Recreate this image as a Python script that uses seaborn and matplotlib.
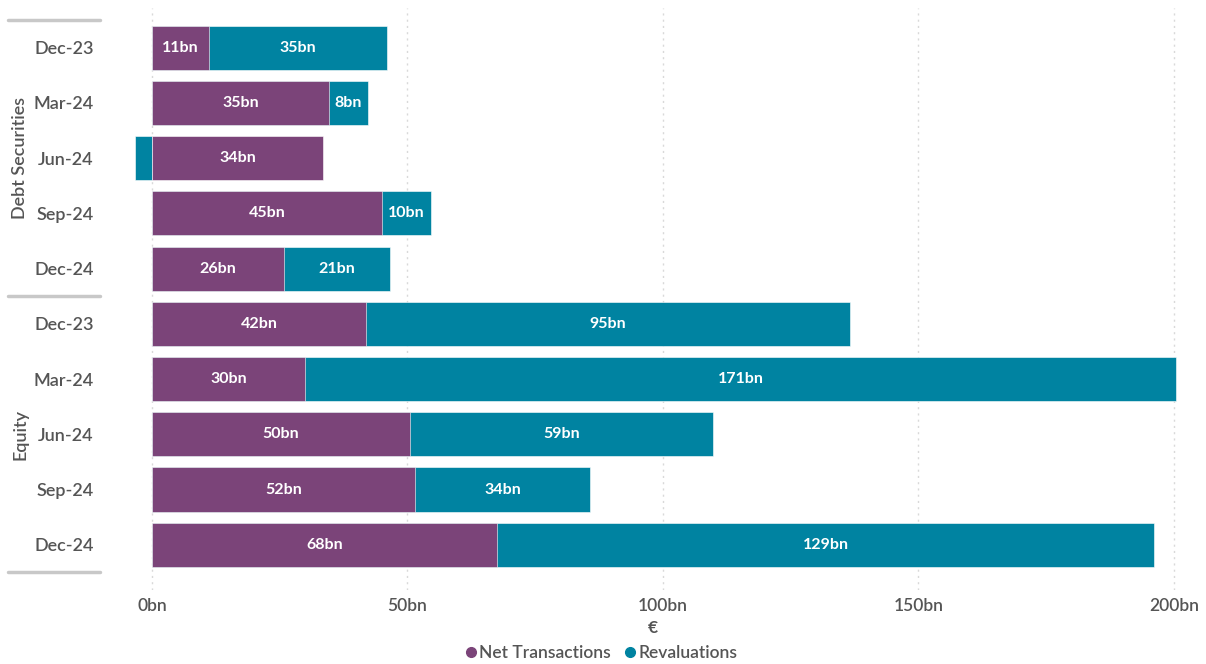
import matplotlib
matplotlib.use("Agg")
import matplotlib.pyplot as plt
from matplotlib.lines import Line2D
import matplotlib.transforms as mtransforms
import seaborn as sns
import pandas as pd
import numpy as np

groups = ["Debt Securities"] * 5 + ["Equity"] * 5
periods = ["Dec-23", "Mar-24", "Jun-24", "Sep-24", "Dec-24"] * 2
net_transactions = [11.2, 34.6, 33.5, 45.0, 25.8, 41.9, 29.9, 50.5, 51.5, 67.5]
revaluations = [34.8, 7.7, -3.3, 9.6, 20.8, 94.7, 170.6, 59.3, 34.2, 128.6]
xticks = [0, 50, 100, 150, 200]
xtick_labels = ["0bn", "50bn", "100bn", "150bn", "200bn"]

PURPLE = "#7b4479"
TEAL = "#0083a1"
TXT = "#555555"
W = "semibold"

sns.set_theme()
sns.set_style("white")
plt.rcParams["font.family"] = ["Lato", "DejaVu Sans"]

keys = [f"{g}|{p}" for g, p in zip(groups, periods)]
df = pd.DataFrame({
    "key": keys,
    "net": net_transactions,
    "rev": revaluations,
})
df["teal_extent"] = np.where(df["rev"] >= 0, df["net"] + df["rev"], df["rev"])

fig = plt.figure(figsize=(12.06, 6.64), dpi=100)
ax = fig.add_axes([105 / 1206, 1 - 590 / 664, 1095 / 1206, 582 / 664])

sns.barplot(data=df, y="key", x="teal_extent", order=keys, color=TEAL,
            saturation=1, width=0.8, orient="y", ax=ax,
            edgecolor="#ffffff", linewidth=0.4)
sns.barplot(data=df, y="key", x="net", order=keys, color=PURPLE,
            saturation=1, width=0.8, orient="y", ax=ax,
            edgecolor="#ffffff", linewidth=0.4)

# value labels
for i, (n, r) in enumerate(zip(net_transactions, revaluations)):
    ax.text(n / 2, i, f"{round(n)}bn", ha="center", va="center",
            color="white", fontsize=11.5, fontweight="bold")
    if r > 5:
        ax.text(n + r / 2, i, f"{round(r)}bn", ha="center", va="center",
                color="white", fontsize=11.5, fontweight="bold")

ax.set_xlim(-9.2, 205.1)
ax.set_ylim(9.82, -0.72)
ax.set_xticks(xticks)
ax.set_xticklabels(xtick_labels, fontsize=12.5, color=TXT, fontweight=W)
ax.set_yticks(range(len(keys)))
ax.set_yticklabels(periods, fontsize=13, color=TXT, fontweight=W)
ax.tick_params(axis="y", length=0, pad=8)
ax.tick_params(axis="x", length=0, pad=6)
ax.set_ylabel("")
ax.set_xlabel("€", fontsize=12.5, color=TXT, fontweight="bold", labelpad=4)
for s in ax.spines.values():
    s.set_visible(False)
ax.grid(axis="x", color="#d9d9d9", linestyle=(0, (1.5, 3)), linewidth=1)
ax.grid(axis="y", visible=False)
ax.set_axisbelow(True)

# group separators and labels
trans = mtransforms.blended_transform_factory(ax.transAxes, ax.transData)
for y in [-0.5, 4.5, 9.5]:
    ax.add_line(Line2D([-0.0886, -0.0046], [y, y], transform=trans,
                       color="#c8c8c8", linewidth=2.5, clip_on=False))
for label, yc in [("Debt Securities", 2), ("Equity", 7)]:
    ax.text(-0.0775, yc, label, transform=trans, rotation=90, ha="center",
            va="center", fontsize=13, color=TXT, fontweight=W)

handles = [
    Line2D([], [], marker="o", linestyle="", color=PURPLE, markersize=7),
    Line2D([], [], marker="o", linestyle="", color=TEAL, markersize=7),
]
leg = fig.legend(handles, ["Net Transactions", "Revaluations"], loc="center",
                 bbox_to_anchor=(600 / 1206, 1 - 653 / 664), ncol=2, frameon=False,
                 handletextpad=0.0, columnspacing=0.6, fontsize=12.5,
                 labelcolor=TXT, handlelength=1.0)
for t in leg.get_texts():
    t.set_fontweight(W)

fig.savefig("out.png", dpi=100)
